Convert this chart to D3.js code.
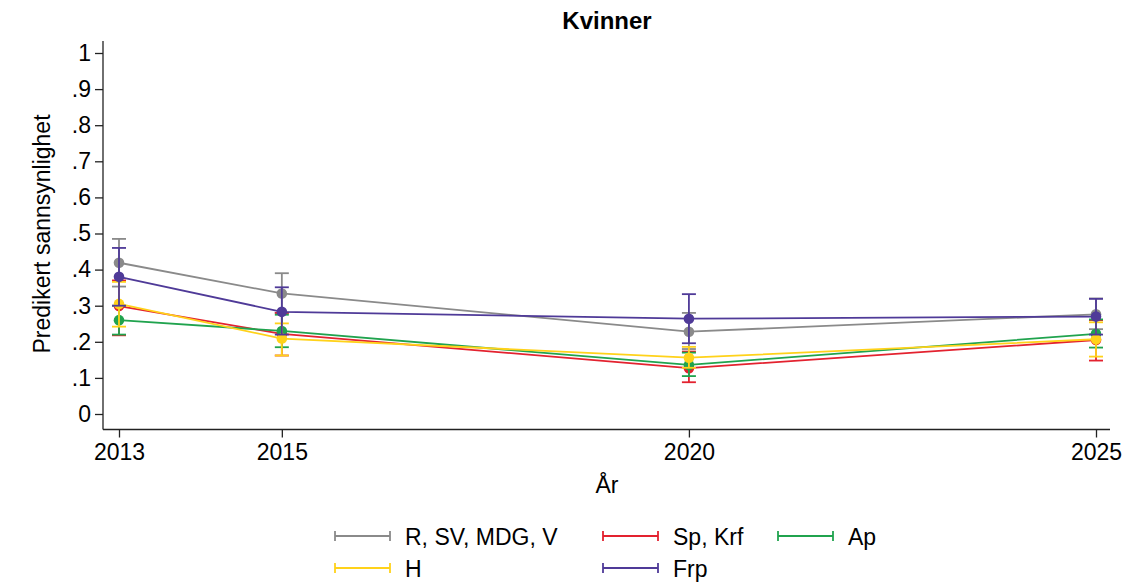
<!DOCTYPE html>
<html><head><meta charset="utf-8">
<script src="https://cdn.jsdelivr.net/npm/d3@7"></script>
<style>body{margin:0;background:#fff}svg{display:block;font-family:"Liberation Sans",Arial,Helvetica,sans-serif}</style>
</head><body><svg id="c" width="1122" height="583"></svg>
<script>
const years = [2013, 2015, 2020, 2025];
const yTicks = [0, .1, .2, .3, .4, .5, .6, .7, .8, .9, 1];
const yTickLabels = ["0", ".1", ".2", ".3", ".4", ".5", ".6", ".7", ".8", ".9", "1"];
const seriesNames = ["R, SV, MDG, V", "Sp, Krf", "Ap", "H", "Frp"];
const seriesColors = ["#8a8a8a", "#e3222f", "#20a34e", "#ffd21a", "#4f3a98"];
const estR = [0.419, 0.334, 0.228, 0.276], loR = [0.353, 0.28, 0.18, 0.235], hiR = [0.485, 0.39, 0.28, 0.32];
const estSp = [0.299, 0.222, 0.127, 0.205], loSp = [0.218, 0.162, 0.088, 0.148], hiSp = [0.37, 0.28, 0.173, 0.26];
const estAp = [0.260, 0.230, 0.136, 0.222], loAp = [0.22, 0.185, 0.105, 0.184], hiAp = [0.30, 0.275, 0.17, 0.262];
const estH = [0.305, 0.209, 0.156, 0.207], loH = [0.242, 0.162, 0.128, 0.159], hiH = [0.366, 0.251, 0.186, 0.254];
const estFrp = [0.380, 0.283, 0.264, 0.270], loFrp = [0.30, 0.22, 0.196, 0.22], hiFrp = [0.46, 0.351, 0.332, 0.319];
const series = [
  {est: estR, lo: loR, hi: hiR},
  {est: estSp, lo: loSp, hi: hiSp},
  {est: estAp, lo: loAp, hi: hiAp},
  {est: estH, lo: loH, hi: hiH},
  {est: estFrp, lo: loFrp, hi: hiFrp}
].map((s, i) => ({...s, name: seriesNames[i], color: seriesColors[i]}));

const svg = d3.select("#c");
const x = d3.scaleLinear().domain([2013, 2025]).range([119, 1096]);
const y = d3.scaleLinear().domain([0, 1]).range([414, 53]);
const axisCol = "#222";
const FONT = "Liberation Sans, Arial, sans-serif";

// axis lines
svg.append("line").attr("x1", 103).attr("x2", 103).attr("y1", 41).attr("y2", 429.5).attr("stroke", axisCol).attr("stroke-width", 1.3);
svg.append("line").attr("x1", 103).attr("x2", 1110).attr("y1", 429.5).attr("y2", 429.5).attr("stroke", axisCol).attr("stroke-width", 1.3);

const ya = svg.append("g").attr("transform", "translate(103,0)")
  .call(d3.axisLeft(y).tickValues(yTicks).tickFormat((d, i) => yTickLabels[i]).tickSize(8).tickPadding(4));
ya.select(".domain").remove();
ya.selectAll("line").attr("stroke", axisCol).attr("stroke-width", 1.3);
ya.selectAll("text").attr("font-size", 23).attr("fill", "#000").attr("font-family", FONT);

const xa = svg.append("g").attr("transform", "translate(0,429.5)")
  .call(d3.axisBottom(x).tickValues(years).tickFormat(d3.format("d")).tickSize(8).tickPadding(6));
xa.select(".domain").remove();
xa.selectAll("line").attr("stroke", axisCol).attr("stroke-width", 1.3);
xa.selectAll("text").attr("font-size", 23).attr("fill", "#000").attr("font-family", FONT);

// titles
svg.append("text").attr("x", 607).attr("y", 29).attr("text-anchor", "middle").attr("font-weight", "bold").attr("font-size", 24).text("Kvinner");
svg.append("text").attr("x", 607).attr("y", 493).attr("text-anchor", "middle").attr("font-size", 23).text("År");
svg.append("text").attr("transform", "translate(50,234) rotate(-90)").attr("text-anchor", "middle").attr("font-size", 23).text("Predikert sannsynlighet");

// series
const line = d3.line().x((d, i) => x(years[i])).y(d => y(d));
const capW = 7;
series.forEach(s => {
  const g = svg.append("g");
  years.forEach((yr, i) => {
    const cx = x(yr);
    g.append("line").attr("x1", cx).attr("x2", cx).attr("y1", y(s.lo[i])).attr("y2", y(s.hi[i])).attr("stroke", s.color).attr("stroke-width", 1.8);
    [s.lo[i], s.hi[i]].forEach(v => g.append("line").attr("x1", cx - capW).attr("x2", cx + capW).attr("y1", y(v)).attr("y2", y(v)).attr("stroke", s.color).attr("stroke-width", 1.8));
  });
  g.append("path").attr("d", line(s.est)).attr("fill", "none").attr("stroke", s.color).attr("stroke-width", 1.8);
  g.selectAll("circle").data(s.est).join("circle").attr("cx", (d, i) => x(years[i])).attr("cy", d => y(d)).attr("r", 5.3).attr("fill", s.color);
});

// legend
const legPos = [[335, 536], [603, 536], [778, 536], [335, 568], [603, 568]];
series.forEach((s, i) => {
  const [lx, ly] = legPos[i];
  const g = svg.append("g");
  g.append("line").attr("x1", lx).attr("x2", lx + 55).attr("y1", ly).attr("y2", ly).attr("stroke", s.color).attr("stroke-width", 1.8);
  [lx, lx + 55].forEach(px => g.append("line").attr("x1", px).attr("x2", px).attr("y1", ly - 5).attr("y2", ly + 5).attr("stroke", s.color).attr("stroke-width", 1.8));
  g.append("text").attr("x", lx + 70).attr("y", ly + 9).attr("font-size", 23).text(s.name);
});
</script></body></html>
